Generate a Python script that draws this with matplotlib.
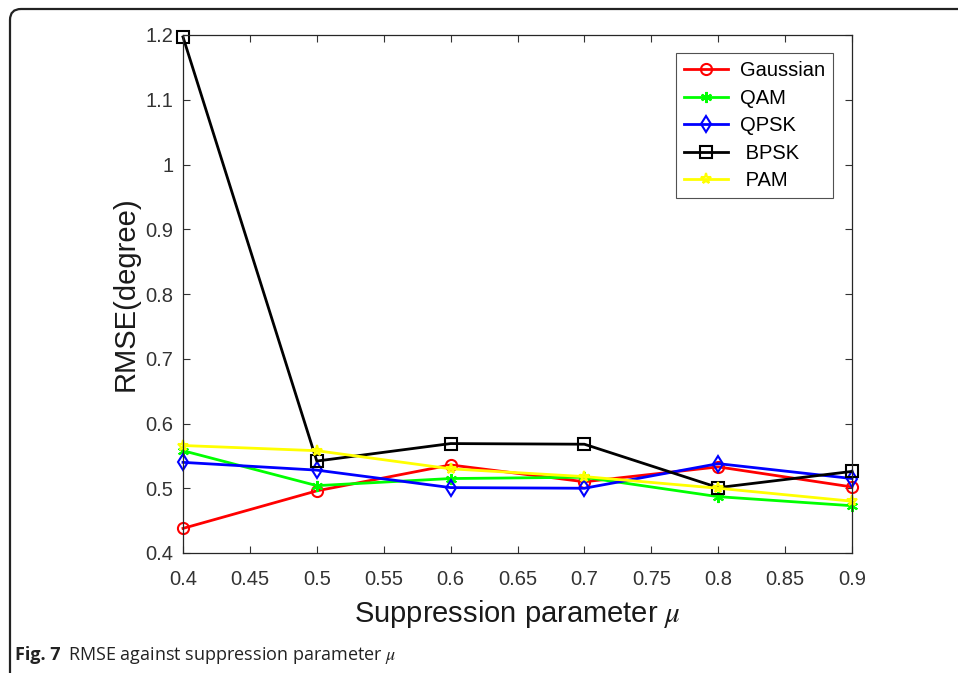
import matplotlib
matplotlib.use("Agg")
import matplotlib.pyplot as plt
from matplotlib.path import Path
from matplotlib.patches import PathPatch

plt.rcParams["font.family"] = ["Liberation Sans", "DejaVu Sans"]
plt.rcParams["mathtext.fontset"] = "stix"

mu = [0.4, 0.5, 0.6, 0.7, 0.8, 0.9]
gaussian = [0.438, 0.496, 0.536, 0.510, 0.533, 0.502]
qam = [0.558, 0.504, 0.515, 0.517, 0.487, 0.473]
qpsk = [0.540, 0.528, 0.501, 0.500, 0.538, 0.515]
bpsk = [1.197, 0.542, 0.569, 0.568, 0.501, 0.526]
pam = [0.566, 0.558, 0.530, 0.518, 0.500, 0.480]
series_names = ["Gaussian", "QAM", "QPSK", " BPSK", " PAM"]
xticks = [0.4, 0.45, 0.5, 0.55, 0.6, 0.65, 0.7, 0.75, 0.8, 0.85, 0.9]
yticks = [0.4, 0.5, 0.6, 0.7, 0.8, 0.9, 1.0, 1.1, 1.2]

W, H = 958, 673
fig = plt.figure(figsize=(W / 100, H / 100), dpi=100)
ax = fig.add_axes([183 / W, 1 - 553 / H, (852 - 183) / W, (553 - 35) / H])

styles = [
    dict(color="#ff0000", marker="o"),
    dict(color="#00ff00", marker=(6, 2, 0)),
    dict(color="#0000ff", marker="d"),
    dict(color="#000000", marker="s"),
    dict(color="#ffff00", marker="*"),
]
for data, name, st in zip([gaussian, qam, qpsk, bpsk, pam], series_names, styles):
    ax.plot(mu, data, color=st["color"], marker=st["marker"], lw=2.0,
            markersize=8, markerfacecolor="none", markeredgecolor=st["color"],
            markeredgewidth=1.5, label=name, clip_on=False)

ax.set_xlim(0.4, 0.9)
ax.set_ylim(0.4, 1.2)
ax.set_xticks(xticks)
ax.set_xticklabels([("%g" % v) for v in xticks])
ax.set_yticks(yticks)
ax.set_yticklabels([("%g" % v) for v in yticks])
ax.tick_params(direction="in", top=True, right=True, length=5, width=0.8,
               labelsize=14.5, colors="#333333")
ax.tick_params(axis="x", pad=12)
ax.tick_params(axis="y", pad=7)
for sp in ax.spines.values():
    sp.set_color("#262626")
    sp.set_linewidth(0.9)

ax.set_xlabel("Suppression parameter $\\mu$", fontsize=21, color="#1a1a1a", labelpad=7)
ax.set_ylabel("RMSE(degree)", fontsize=21, color="#1a1a1a", labelpad=4)

leg = ax.legend(loc="upper right", bbox_to_anchor=(0.972, 0.965), borderaxespad=0,
                fontsize=14.5, frameon=True, fancybox=False, handlelength=2.2,
                handletextpad=0.6, labelspacing=0.42, borderpad=0.4)
leg.get_frame().set_edgecolor("#262626")
leg.get_frame().set_linewidth(0.8)

# outer frame with rounded top-left corner
verts = [(10 / W, 0.0), (10 / W, 1 - 20 / H), (10 / W, 1 - 9 / H), (21 / W, 1 - 9 / H), (1.0, 1 - 9 / H)]
codes = [Path.MOVETO, Path.LINETO, Path.CURVE3, Path.CURVE3, Path.LINETO]
fig.patches.append(PathPatch(Path(verts, codes), transform=fig.transFigure,
                             facecolor="none", edgecolor="#222222", lw=1.6))

fig.text(15 / W, 1 - 655 / H, "Fig. 7", fontsize=13, fontweight="bold",
         family="Open Sans", va="center", ha="left", color="#222222")
fig.text(68 / W, 1 - 655 / H, "RMSE against suppression parameter $\\mu$", fontsize=13,
         family="Open Sans", va="center", ha="left", color="#222222")

fig.savefig("out.png", dpi=100)
